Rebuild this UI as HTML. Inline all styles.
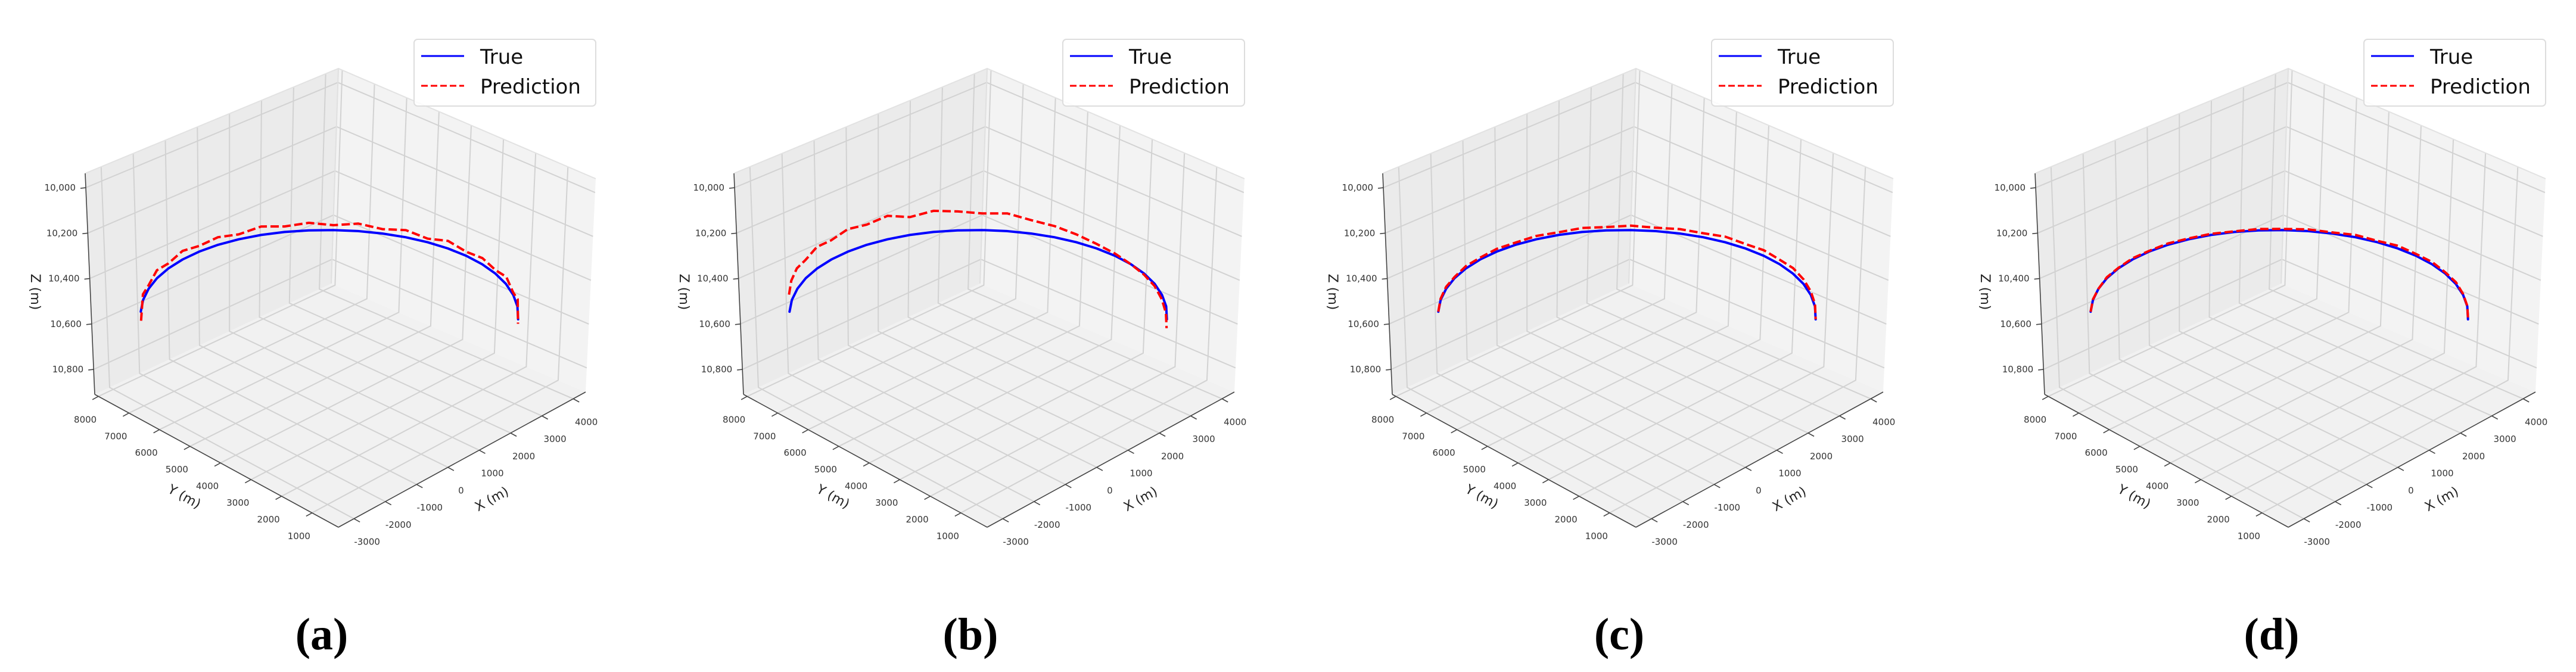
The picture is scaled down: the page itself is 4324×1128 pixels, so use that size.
<!DOCTYPE html>
<html><head><meta charset="utf-8">
<style>
html,body{margin:0;padding:0;background:#fff;}
svg{display:block;}
text{font-family:"DejaVu Sans","Liberation Sans",sans-serif;}
</style></head>
<body>
<svg id="fig" width="4324" height="1128" viewBox="0 0 4324 1128" xmlns="http://www.w3.org/2000/svg"></svg>
<script>
// ---- data ----
const xTicks = [-3000,-2000,-1000,0,1000,2000,3000,4000];
const yTicks = [1000,2000,3000,4000,5000,6000,7000,8000];
const zTicks = [10000,10200,10400,10600,10800];
const zTickLabels = ["10,000","10,200","10,400","10,600","10,800"];
const panelLabels = ["(a)","(b)","(c)","(d)"];
const trueX = [-2899,-2469,-1993,-1488,-956,-408,149,701,1241,1764,2253,2703,3107,3460,3753,3982,4140,4229,4246,4191,4063,3868,3604,3281,2899];
const trueY = [7107,7460,7753,7982,8140,8229,8246,8191,8063,7868,7604,7281,6899,6469,5993,5488,4956,4408,3851,3299,2759,2236,1748,1297,893];
const trueZ = [10510,10510,10510,10510,10510,10510,10510,10510,10510,10510,10510,10510,10510,10510,10510,10510,10510,10510,10510,10510,10510,10510,10510,10510,10515];
const predZa = [10550,10485,10495,10475,10488,10472,10485,10476,10488,10472,10485,10476,10488,10476,10490,10478,10494,10476,10492,10482,10494,10478,10500,10478,10535];
const predZb = [10435,10425,10420,10430,10415,10425,10410,10420,10405,10430,10415,10425,10435,10430,10450,10460,10475,10490,10500,10510,10515,10520,10530,10540,10555];
const predZc = [10510,10505,10502,10505,10500,10502,10498,10500,10495,10498,10492,10495,10490,10495,10490,10492,10485,10490,10485,10490,10485,10490,10495,10500,10515];
const predZd = [10510,10507,10510,10506,10508,10505,10507,10504,10506,10505,10507,10504,10505,10502,10505,10500,10504,10498,10502,10500,10504,10502,10506,10508,10512];
const predZ = [predZa,predZb,predZc,predZd];

// ---- axes geometry (panel-local pixel frame) ----
const xMin=-3497, xMax=4395, yMin=138, yMax=8120, zTop=9937, zBot=10910;
const F=[568,885], R=[983,658], B=[556,476], L=[159,662];
const TF=[570,505], TR=[1000,300], TB=[568,115], TL=[143,291];
const offsets=[0,1089,2178,3273];
const NS="http://www.w3.org/2000/svg";

function bil(P,Q,Rr,S,u,v){
  return [P[0]*(1-u)*(1-v)+Q[0]*u*(1-v)+Rr[0]*(1-u)*v+S[0]*u*v,
          P[1]*(1-u)*(1-v)+Q[1]*u*(1-v)+Rr[1]*(1-u)*v+S[1]*u*v];
}
function projUVW(u,v,w){
  const b=bil(F,R,L,B,u,v), t=bil(TF,TR,TL,TB,u,v);
  return [b[0]+(t[0]-b[0])*w, b[1]+(t[1]-b[1])*w];
}
function ux(x){return (x-xMin)/(xMax-xMin);}
function vy(y){return (y-yMin)/(yMax-yMin);}
function wz(z){return (zBot-z)/(zBot-zTop);}
function proj(x,y,z){return projUVW(ux(x),vy(y),wz(z));}

function mk(tag,attrs,parent){
  const e=document.createElementNS(NS,tag);
  for(const k in attrs) e.setAttribute(k,attrs[k]);
  parent.appendChild(e); return e;
}
function poly(pts){return pts.map(p=>p[0].toFixed(1)+","+p[1].toFixed(1)).join(" ");}

const svg=document.getElementById('fig');
const GRID="#d2d2d2";

offsets.forEach((ox,pi)=>{
  const g=mk('g',{transform:`translate(${ox},0)`},svg);
  
  

  const floor=mk('polygon',{points:poly([F,R,B,L]),fill:'#f1f1f1',stroke:'none'},g);
  
  
  const lw=mk('polygon',{points:poly([L,B,TB,TL]),fill:'#ebebeb',stroke:'none'},g);
  
  
  const rw=mk('polygon',{points:poly([B,R,TR,TB]),fill:'#f3f3f3',stroke:'none'},g);
  
  

  const grid=mk('g',{stroke:GRID,'stroke-width':2,fill:'none'},g);
  
  
  xTicks.forEach(t=>{
    const u=ux(t);
    mk('polyline',{points:poly([projUVW(u,0,0),projUVW(u,1,0),projUVW(u,1,1)])},grid);
  });
  yTicks.forEach(t=>{
    const v=vy(t);
    mk('polyline',{points:poly([projUVW(0,v,0),projUVW(1,v,0),projUVW(1,v,1)])},grid);
  });
  zTicks.forEach(t=>{
    const w=wz(t);
    mk('polyline',{points:poly([projUVW(0,1,w),projUVW(1,1,w),projUVW(1,0,w)])},grid);
  });
  mk('polyline',{points:poly([TL,TB,TR]),stroke:'#e2e2e2','stroke-width':2,fill:'none'},g);
  mk('line',{x1:B[0],y1:B[1],x2:TB[0],y2:TB[1],stroke:'#e0e0e0','stroke-width':2},g);

  const ax=mk('g',{stroke:'#444','stroke-width':1.6,fill:'none'},g);
  
  
  mk('line',{x1:F[0],y1:F[1],x2:R[0],y2:R[1]},ax);
  mk('line',{x1:F[0],y1:F[1],x2:L[0],y2:L[1]},ax);
  mk('line',{x1:L[0],y1:L[1],x2:TL[0],y2:TL[1]},ax);

  xTicks.forEach(t=>{
    const p=projUVW(ux(t),0,0);
    mk('line',{x1:p[0],y1:p[1],x2:p[0]+10,y2:p[1]+5.5,stroke:'#444','stroke-width':1.6},g);
    const tx=mk('text',{x:p[0]+22,y:p[1]+44,'font-size':15,fill:'#333','text-anchor':'middle'},g);
    tx.textContent=String(t);
    
    
  });
  yTicks.forEach(t=>{
    const p=projUVW(0,vy(t),0);
    mk('line',{x1:p[0],y1:p[1],x2:p[0]-10,y2:p[1]+5.5,stroke:'#444','stroke-width':1.6},g);
    const tx=mk('text',{x:p[0]-22,y:p[1]+44,'font-size':15,fill:'#333','text-anchor':'middle'},g);
    tx.textContent=String(t);
    
    
  });
  zTicks.forEach((t,i)=>{
    const p=projUVW(0,1,wz(t));
    mk('line',{x1:p[0],y1:p[1],x2:p[0]-9,y2:p[1]+1,stroke:'#444','stroke-width':1.6},g);
    const tx=mk('text',{x:p[0]-17,y:p[1]+5,'font-size':15,fill:'#333','text-anchor':'end'},g);
    tx.textContent=zTickLabels[i];
    
    
  });

  const xl=mk('text',{x:0,y:0,'font-size':22,fill:'#222','text-anchor':'middle',transform:'translate(829,844) rotate(-29)'},g);
  xl.textContent='X (m)';
  
  
  const yl=mk('text',{x:0,y:0,'font-size':22,fill:'#222','text-anchor':'middle',transform:'translate(306,840) rotate(29)'},g);
  yl.textContent='Y (m)';
  
  
  const zl=mk('text',{x:0,y:0,'font-size':22,fill:'#222','text-anchor':'middle',transform:'translate(52,490) rotate(90)'},g);
  zl.textContent='Z (m)';
  
  

  const tp=trueX.map((x,i)=>proj(x,trueY[i],trueZ[i]));
  const tl=mk('polyline',{points:poly(tp),fill:'none',stroke:'#0000ff','stroke-width':4,'stroke-linejoin':'round','stroke-linecap':'round'},g);
  
  
  const pz=predZ[pi];
  const pp=trueX.map((x,i)=>proj(x,trueY[i],pz[i]));
  const pl=mk('polyline',{points:poly(pp),fill:'none',stroke:'#ff0000','stroke-width':4,'stroke-dasharray':'14 6'},g);
  
  

  const lg=mk('g',{},g);
  
  
  mk('rect',{x:695,y:66,width:305,height:112,rx:6,fill:'#fff','fill-opacity':0.85,stroke:'#dddddd','stroke-width':2},lg);
  mk('line',{x1:707,y1:94,x2:779,y2:94,stroke:'#0000ff','stroke-width':3},lg);
  mk('line',{x1:707,y1:144,x2:779,y2:144,stroke:'#ff0000','stroke-width':3,'stroke-dasharray':'11 5'},lg);
  const t1=mk('text',{x:806,y:107,'font-size':34,fill:'#111'},lg);
  t1.textContent='True';
  
  
  const t2=mk('text',{x:806,y:157,'font-size':34,fill:'#111'},lg);
  t2.textContent='Prediction';
  
  

  const cap=mk('text',{x:540,y:1090,'font-size':76,'font-weight':'bold',fill:'#000','text-anchor':'middle',style:'font-family:"Liberation Serif",serif'},g);
  cap.textContent=panelLabels[pi];
  
  
});
</script>
</body></html>
